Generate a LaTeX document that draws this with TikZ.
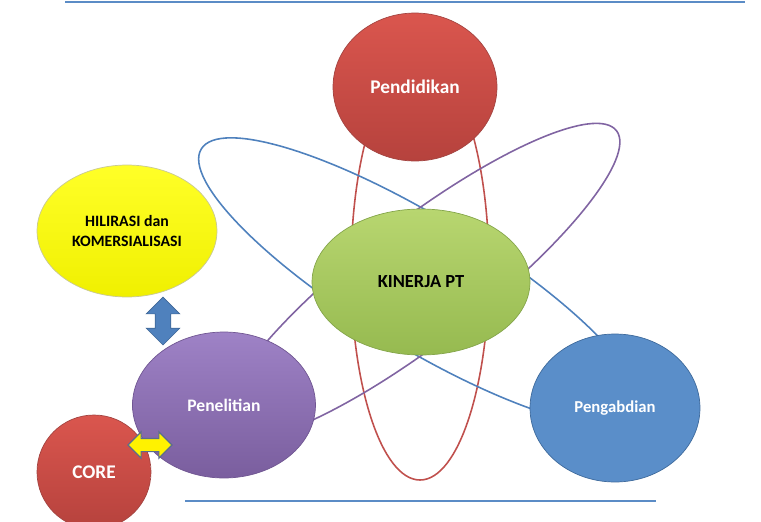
\documentclass[tikz,border=0pt]{standalone}
\usepackage{fontspec}
\setmainfont{Carlito}
\usetikzlibrary{shapes.geometric,shapes.arrows}

\definecolor{orbred}{HTML}{C0504D}
\definecolor{orbblue}{HTML}{4F81BD}
\definecolor{orbpurple}{HTML}{8064A2}
\definecolor{rulecol}{HTML}{5B8CC6}

\tikzset{
	blob/.style={ellipse, inner sep=0pt, align=center, font=\bfseries},
	redblob/.style={blob, top color={rgb,255:red,218;green,86;blue,78}, bottom color={rgb,255:red,182;green,66;blue,61}, draw=orbred!85!black, text=white},
	orbit/.style={line width=0.9pt},
	rulebar/.style={line width=1.3pt, color=rulecol},
}

\begin{document}
\begin{tikzpicture}[x=0.02cm, y=-0.02cm]
			%%%%% START %%%%%
			\useasboundingbox (0, 0) rectangle (761, 521);
			
			\draw[rulebar] (65, 2) -- (745, 2);
			\draw[rulebar] (185, 501) -- (656, 501);
			
			\coordinate (hub) at (420, 282);
			
			% orbits round the middle
			\draw[orbit, color=orbred] (420, 270) ellipse [x radius=69, y radius=210];
			\draw[orbit, color=orbblue, rotate around={-31.3:(hub)}] (hub) ellipse [x radius=256, y radius=65];
			\draw[orbit, color=orbpurple, rotate around={37.6:(hub)}] (hub) ellipse [x radius=248, y radius=60];
			
			\node[redblob, minimum width=3.28cm, minimum height=2.96cm, font=\bfseries\fontsize{11}{13}\selectfont] (pendidikan) at (415, 87) {Pendidikan};
			
			\node[blob, minimum width=4.36cm, minimum height=2.92cm, top color={rgb,255:red,184;green,214;blue,112}, bottom color={rgb,255:red,150;green,186;blue,80}, draw={rgb,255:red,132;green,165;blue,74}, font=\bfseries\fontsize{10.5}{12}\selectfont] (kinerja) at (421, 282) {KINERJA PT};
			
			\node[blob, minimum width=3.4cm, minimum height=2.96cm, fill={rgb,255:red,90;green,142;blue,201}, draw={rgb,255:red,62;green,106;blue,156}, text=white, font=\bfseries\fontsize{9.5}{11}\selectfont] (pengabdian) at (615, 408) {Pengabdian};
			
			\node[blob, minimum width=3.66cm, minimum height=2.92cm, top color={rgb,255:red,158;green,130;blue,198}, bottom color={rgb,255:red,122;green,94;blue,158}, draw={rgb,255:red,112;green,86;blue,146}, text=white, font=\bfseries\fontsize{10}{12}\selectfont] (penelitian) at (224, 405) {Penelitian};
			
			\node[blob, minimum width=3.6cm, minimum height=2.64cm, top color={rgb,255:red,255;green,255;blue,40}, bottom color={rgb,255:red,240;green,240;blue,0}, draw={rgb,255:red,200;green,200;blue,150}, font=\bfseries\fontsize{9}{11}\selectfont] (hilirasi) at (127, 231) {HILIRASI dan\\KOMERSIALISASI};
			
			\node[redblob, minimum width=2.28cm, minimum height=2.28cm, font=\bfseries\fontsize{11}{13}\selectfont] (core) at (94, 472) {CORE};
			
			% two-way arrows
			\node[double arrow, shape border rotate=90, minimum height=0.96cm, inner sep=0.15cm, double arrow head extend=0.18cm, fill=orbblue, draw=orbblue!80!black] (upload) at (163, 321) {};
			\node[double arrow, minimum height=0.88cm, inner sep=0.12cm, double arrow head extend=0.13cm, fill=yellow, draw={rgb,255:red,90;green,110;blue,140}, line width=0.7pt] (corelink) at (150, 445) {};
			
			%%%%% END %%%%%
\end{tikzpicture}
\end{document}
